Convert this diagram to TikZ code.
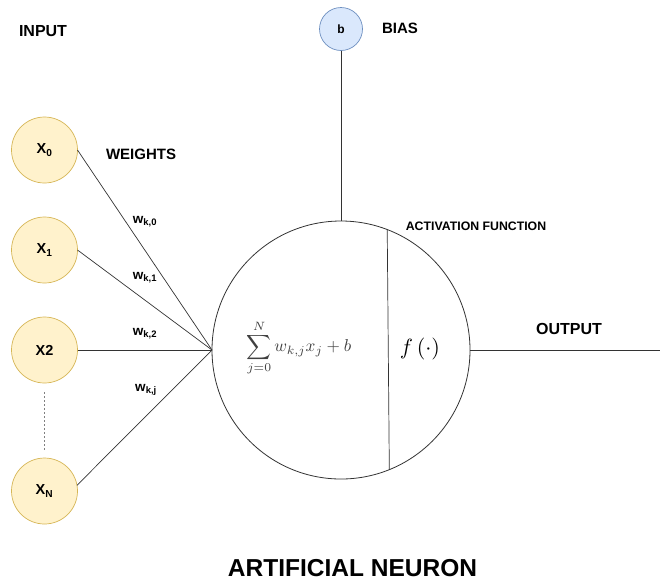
\documentclass[tikz,border=0pt]{standalone}
\usepackage[no-math]{fontspec}
\newfontfamily\labelfont{Liberation Sans}
\definecolor{infill}{HTML}{FFF2CC}
\definecolor{inborder}{HTML}{D6B656}
\definecolor{biasfill}{HTML}{DAE8FC}
\definecolor{biasborder}{HTML}{6C8EBF}
\definecolor{wirecol}{HTML}{333333}
\begin{document}
\begin{tikzpicture}[x=1pt,y=-1pt,
  inputnode/.style={circle, draw=inborder, fill=infill, line width=0.7pt,
    minimum size=66pt, inner sep=0pt, outer sep=0pt,
    font=\labelfont\bfseries\fontsize{14.5}{16}\selectfont},
  biasnode/.style={circle, draw=biasborder, fill=biasfill, line width=0.7pt,
    minimum size=43pt, inner sep=0pt, outer sep=0pt,
    font=\labelfont\bfseries\fontsize{12}{14}\selectfont},
  neuron/.style={circle, draw=wirecol, fill=white, line width=0.8pt,
    minimum size=258pt, inner sep=0pt, outer sep=0pt},
  wire/.style={draw=wirecol, line width=0.7pt},
  heading/.style={font=\labelfont\bfseries\fontsize{15}{18}\selectfont, inner sep=0pt},
  weightlabel/.style={font=\labelfont\bfseries\fontsize{13.5}{15}\selectfont, inner sep=0pt},
  ellipsisline/.style={draw=gray, line width=0.6pt, dash pattern=on 2pt off 2pt},
]
\useasboundingbox (0,0) rectangle (660,582);

% input neurons
\node[inputnode] (x0) at (44.5,150) {X\textsubscript{0}};
\node[inputnode] (x1) at (44.5,250) {X\textsubscript{1}};
\node[inputnode] (x2) at (44.5,350) {X2};
\node[inputnode] (xn) at (44.5,491) {X\textsubscript{N}};

% the neuron body and its bias
\node[neuron] (n) at (341,350) {};
\node[biasnode] (b) at (341,29) {b};
\coordinate (out) at (660,350);

% weighted inputs
\draw[wire] (x0.east) -- (n.west);
\draw[wire] (x1.east) -- (n.west);
\draw[wire] (x2.east) -- (n.west);
\draw[wire] (xn.10) -- (n.west);
\draw[ellipsisline, shorten <=9pt, shorten >=8pt] (x2.south) -- (xn.north);

% bias, split between summation and activation, output
\draw[wire] (b.south) -- (n.north);
\draw[wire] (n.69.6) -- (n.-68.1);
\draw[wire, line width=1pt] (n.east) -- (out);

% formulas inside the neuron
\node[scale=1.72, text=black!75] (sum) at (299,348) {$\displaystyle\sum_{j=0}^{N} w_{k,j}x_j+b$};
\node[scale=2.2] (act) at (420,349) {$f\,(\cdot)$};

% weight labels
\node[weightlabel] (w0) at (145,222) {w\textsubscript{k,0}};
\node[weightlabel] (w1) at (145,278) {w\textsubscript{k,1}};
\node[weightlabel] (w2) at (145,334) {w\textsubscript{k,2}};
\node[weightlabel] (wj) at (146,390) {w\textsubscript{k,j}};

% headings
\node[heading, font=\labelfont\bfseries\fontsize{16}{18}\selectfont] (input) at (43,31) {INPUT};
\node[heading] (weights) at (141,154) {WEIGHTS};
\node[heading] (bias) at (400,28) {BIAS};
\node[heading, font=\labelfont\bfseries\fontsize{12.3}{14}\selectfont] (actf) at (476,226) {ACTIVATION FUNCTION};
\node[heading, font=\labelfont\bfseries\fontsize{16}{18}\selectfont] (output) at (569,329) {OUTPUT};
\node[heading, font=\labelfont\bfseries\fontsize{24.5}{28}\selectfont] (title) at (352.5,568) {ARTIFICIAL NEURON};
\end{tikzpicture}
\end{document}
